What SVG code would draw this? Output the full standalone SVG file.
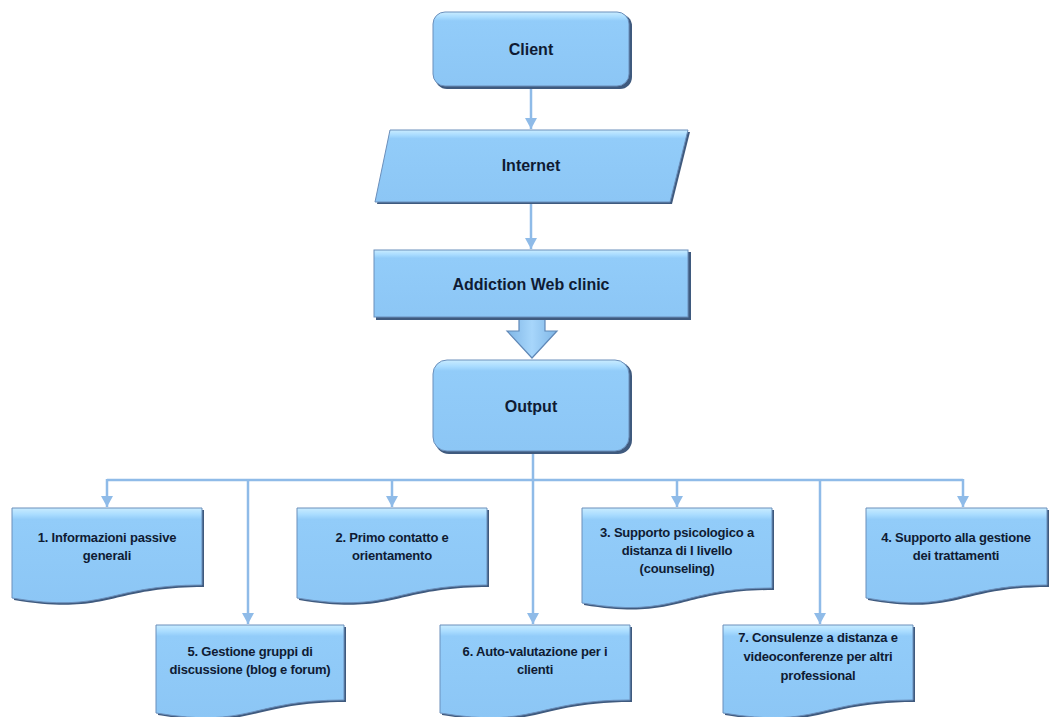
<svg xmlns="http://www.w3.org/2000/svg" width="1050" height="717" viewBox="0 0 1050 717">
  <defs>
    <linearGradient id="boxFill" x1="0" y1="0" x2="0" y2="1">
      <stop offset="0" stop-color="#c9ecff"/>
      <stop offset="0.07" stop-color="#a9dcff"/>
      <stop offset="0.12" stop-color="#92ccf9"/>
      <stop offset="1" stop-color="#8cc6f5"/>
    </linearGradient>
    <linearGradient id="arrowFill" x1="0" y1="0" x2="1" y2="0">
      <stop offset="0" stop-color="#7fb6e6"/>
      <stop offset="0.5" stop-color="#a7d6fb"/>
      <stop offset="1" stop-color="#7fb6e6"/>
    </linearGradient>
    <!-- arrowhead drawn along +x so orient="auto" points it down the line -->
    <marker id="head" markerUnits="userSpaceOnUse" markerWidth="14" markerHeight="14" viewBox="0 0 14 14" refX="12" refY="7" orient="auto">
      <path d="M1,1 L12,7 L1,13 Z" fill="#8fbbe8"/>
    </marker>
    <style>
      .shape { fill: url(#boxFill); stroke: #6b8fbb; stroke-width: 1; }
      .shadow { fill: #3f5a7e; }
      .link { fill: none; stroke: #8fbbe8; stroke-width: 2.5; }
      .arrow { stroke: #8fbbe8; stroke-width: 2.5; fill: none; marker-end: url(#head); }
      .big { font-family: "Liberation Sans", Arial, sans-serif; font-weight: bold; font-size: 16px; fill: #0f1b33; text-anchor: middle; }
      .small { font-family: "Liberation Sans", Arial, sans-serif; font-weight: bold; font-size: 13px; fill: #0f1b33; text-anchor: middle; letter-spacing: -0.2px; }
    </style>
  </defs>

  <rect width="1050" height="717" fill="#ffffff"/>

  <!-- connectors -->
  <g id="connectors">
    <line class="arrow" x1="531" y1="88" x2="531" y2="129"/>
    <line class="arrow" x1="531" y1="202" x2="531" y2="249"/>
    <!-- output distribution bus -->
    <polyline class="link" points="533,452 533,480"/>
    <line class="link" x1="107" y1="480" x2="963" y2="480"/>
    <line class="arrow" x1="107" y1="479" x2="107" y2="507"/>
    <line class="arrow" x1="392" y1="479" x2="392" y2="507"/>
    <line class="arrow" x1="677" y1="479" x2="677" y2="507"/>
    <line class="arrow" x1="963" y1="479" x2="963" y2="507"/>
    <line class="arrow" x1="248" y1="479" x2="248" y2="624"/>
    <line class="arrow" x1="533" y1="479" x2="533" y2="624"/>
    <line class="arrow" x1="820" y1="479" x2="820" y2="624"/>
    <!-- block arrow from clinic to output -->
    <path d="M519,318 L545,318 L545,331 L557,331 L532,358 L507,331 L519,331 Z" fill="url(#arrowFill)" stroke="#5f87b6" stroke-width="1.2"/>
  </g>

  <g id="client">
    <rect class="shadow" x="435" y="14" width="197" height="75" rx="12"/>
    <rect class="shape" x="433" y="12" width="196" height="74" rx="12"/>
    <text class="big" x="531" y="55">Client</text>
  </g>

  <g id="internet">
    <path class="shadow" d="M392,132 L690,132 L672,204 L377,204 Z"/>
    <path class="shape" d="M390,130 L688,130 L670,202 L375,202 Z"/>
    <text class="big" x="531" y="171">Internet</text>
  </g>

  <g id="clinic">
    <rect class="shadow" x="376" y="252" width="315" height="68"/>
    <rect class="shape" x="374" y="250" width="314" height="67"/>
    <text class="big" x="531" y="290">Addiction Web clinic</text>
  </g>

  <g id="output">
    <rect class="shadow" x="435" y="362" width="197" height="92" rx="14"/>
    <rect class="shape" x="433" y="360" width="196" height="91" rx="14"/>
    <text class="big" x="531" y="412">Output</text>
  </g>

  <g id="node1">
    <path class="shadow" d="M14,510 H204 V587 C109,587 109,616 14,600 Z"/>
    <path class="shape" d="M12,508 H202 V585 C107,585 107,614 12,598 Z"/>
    <text class="small" x="107" y="542">1. Informazioni passive</text>
    <text class="small" x="107" y="560">generali</text>
  </g>

  <g id="node2">
    <path class="shadow" d="M299,510 H489 V587 C394,587 394,616 299,600 Z"/>
    <path class="shape" d="M297,508 H487 V585 C392,585 392,614 297,598 Z"/>
    <text class="small" x="392" y="542">2. Primo contatto e</text>
    <text class="small" x="392" y="560">orientamento</text>
  </g>

  <g id="node3">
    <path class="shadow" d="M584,510 H774 V590 C679,590 679,621 584,605 Z"/>
    <path class="shape" d="M582,508 H772 V588 C677,588 677,619 582,603 Z"/>
    <text class="small" x="677" y="537">3. Supporto psicologico a</text>
    <text class="small" x="677" y="555">distanza di I livello</text>
    <text class="small" x="677" y="573">(counseling)</text>
  </g>

  <g id="node4">
    <path class="shadow" d="M868,510 H1049 V587 C958,587 958,616 868,600 Z"/>
    <path class="shape" d="M866,508 H1047 V585 C956,585 956,614 866,598 Z"/>
    <text class="small" x="956" y="542">4. Supporto alla gestione</text>
    <text class="small" x="956" y="560">dei trattamenti</text>
  </g>

  <g id="node5">
    <path class="shadow" d="M158,627 H346 V702 C252,702 252,731 158,715 Z"/>
    <path class="shape" d="M156,625 H344 V700 C250,700 250,729 156,713 Z"/>
    <text class="small" x="250" y="656">5. Gestione gruppi di</text>
    <text class="small" x="250" y="674">discussione (blog e forum)</text>
  </g>

  <g id="node6">
    <path class="shadow" d="M442,627 H632 V702 C537,702 537,731 442,715 Z"/>
    <path class="shape" d="M440,625 H630 V700 C535,700 535,729 440,713 Z"/>
    <text class="small" x="535" y="656">6. Auto-valutazione per i</text>
    <text class="small" x="535" y="674">clienti</text>
  </g>

  <g id="node7">
    <path class="shadow" d="M725,627 H915 V702 C820,702 820,731 725,715 Z"/>
    <path class="shape" d="M723,625 H913 V700 C818,700 818,729 723,713 Z"/>
    <text class="small" x="818" y="642">7. Consulenze a distanza e</text>
    <text class="small" x="818" y="661">videoconferenze per altri</text>
    <text class="small" x="818" y="680">professional</text>
  </g>
</svg>
